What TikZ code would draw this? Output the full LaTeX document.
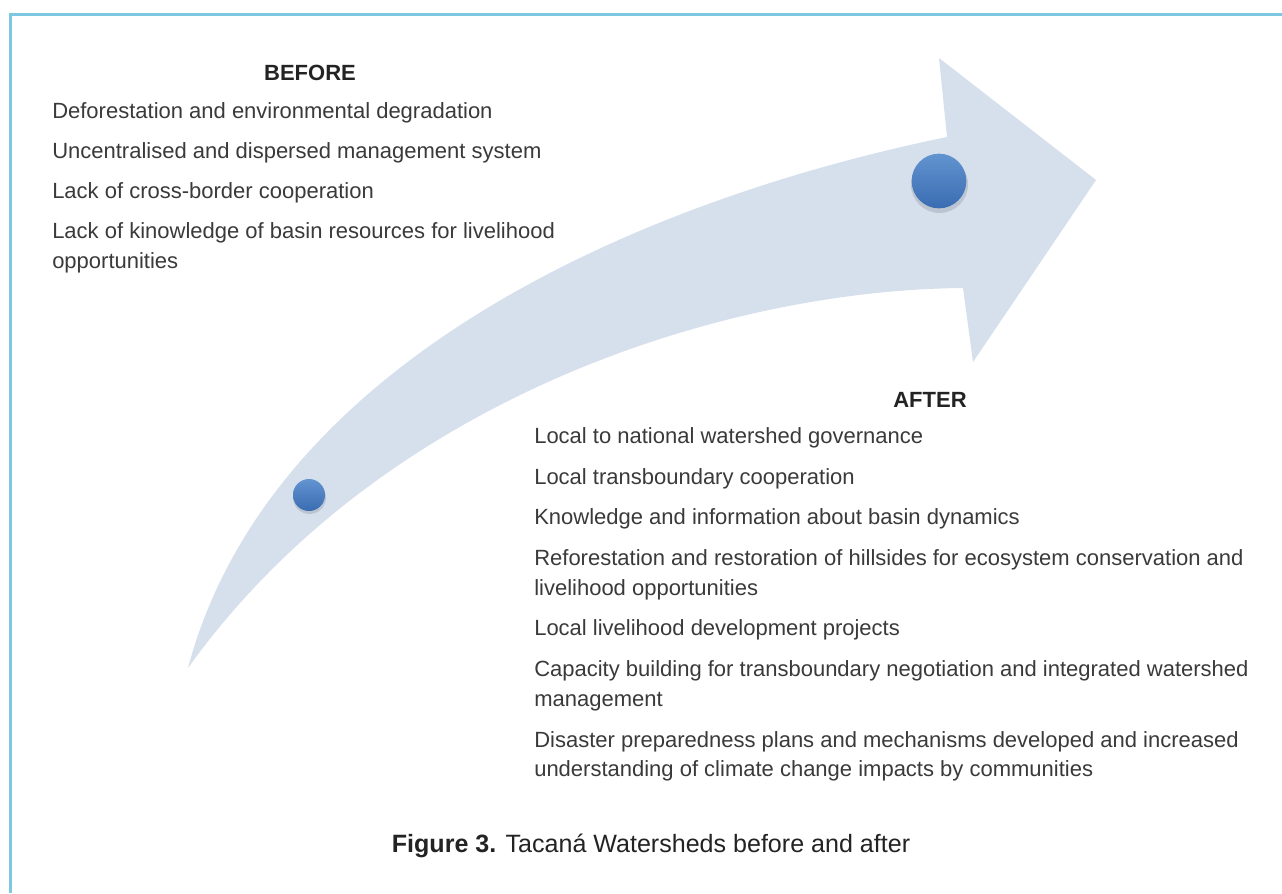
\documentclass[tikz,border=0pt]{standalone}
\usepackage{fontspec}
\setmainfont{Liberation Sans}
\usepackage{tikz}
\definecolor{framecol}{RGB}{125,200,224}
\definecolor{arrowfill}{RGB}{214,224,237}
\definecolor{dottop}{RGB}{98,148,208}
\definecolor{dotbottom}{RGB}{58,108,178}
\definecolor{itemgray}{RGB}{58,58,58}
\definecolor{headgray}{RGB}{35,35,35}
\tikzset{
  heading/.style={font=\fontsize{16.5}{20}\selectfont\bfseries, text=headgray, anchor=base, inner sep=0pt},
  item/.style={font=\fontsize{16.5}{20}\selectfont, text=itemgray, anchor=base west, inner sep=0pt},
  dot/.style={circle, inner sep=0pt, top color=dottop, bottom color=dotbottom}
}

\begin{document}
\begin{tikzpicture}[x=0.75pt, y=-0.75pt]
      \useasboundingbox (0,0) rectangle (1282,893);
      \fill[white] (0,0) rectangle (1282,893);

      % frame lines, top and left only
      \draw[framecol, line width=2.2pt] (10.5,893) -- (10.5,14.5) -- (1282,14.5);

      % curved arrow
      \fill[arrowfill] (188,668) .. controls (270,360) and (640,200) .. (947,137)
            -- (939,58) -- (1096,180) -- (973,362) -- (963,288)
            .. controls (720,290) and (380,400) .. (188,668) -- cycle;

      % the two dots
      \fill[black, opacity=0.12] (309.5,497.5) circle (16.5);
      \node[dot, minimum size=24pt] (start) at (309,495) {};
      \fill[black, opacity=0.12] (939.5,184.5) circle (28.5);
      \node[dot, minimum size=41pt] (goal) at (939,181) {};

      % before
      \node[heading] (before) at (310,80) {BEFORE};
      \node[item] (deforest) at (52,118) {Deforestation and environmental degradation};
      \node[item] (dispersed) at (52,158) {Uncentralised and dispersed management system};
      \node[item] (nocoop) at (52,198) {Lack of cross-border cooperation};
      \node[item] (noknow) at (52,238) {Lack of kinowledge of basin resources for livelihood};
      \node[item] (noknow2) at (52,268) {opportunities};

      % after
      \node[heading] (after) at (930,407) {AFTER};
      \node[item] (govern) at (534,443) {Local to national watershed governance};
      \node[item] (transb) at (534,484) {Local transboundary cooperation};
      \node[item] (dynamics) at (534,524) {Knowledge and information about basin dynamics};
      \node[item] (reforest) at (534,565) {Reforestation and restoration of hillsides for ecosystem conservation and};
      \node[item] (reforest2) at (534,595) {livelihood opportunities};
      \node[item] (projects) at (534,635) {Local livelihood development projects};
      \node[item] (capacity) at (534,676) {Capacity building for transboundary negotiation and integrated watershed};
      \node[item] (capacity2) at (534,706) {management};
      \node[item] (disaster) at (534,747) {Disaster preparedness plans and mechanisms developed and increased};
      \node[item] (disaster2) at (534,776) {understanding of climate change impacts by communities};

      % caption
      \node[anchor=base, inner sep=0pt, text=headgray, font=\fontsize{18.8}{22}\selectfont] (caption) at (651,852)
            {\textbf{Figure 3.} Tacaná Watersheds before and after};
\end{tikzpicture}
\end{document}
